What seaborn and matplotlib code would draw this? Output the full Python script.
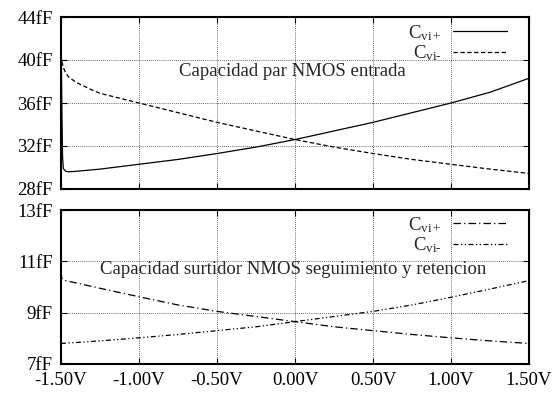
import numpy as np
import pandas as pd
import matplotlib
matplotlib.use("Agg")
import matplotlib.pyplot as plt
import seaborn as sns
from matplotlib.lines import Line2D

sns.set_style("white")
plt.rcParams['font.family'] = ['Liberation Serif', 'DejaVu Serif']
plt.rcParams['mathtext.fontset'] = 'custom'
plt.rcParams['mathtext.rm'] = 'Liberation Serif'
plt.rcParams['mathtext.it'] = 'Liberation Serif:italic'

# ---- data ----
x_top_plus = [-1.5, -1.495, -1.49, -1.485, -1.47, -1.45, -1.4, -1.25, -1.0, -0.75, -0.5, -0.25,
              0.0, 0.25, 0.5, 0.75, 1.0, 1.25, 1.5]
c_top_plus = [44.0, 36.0, 31.0, 29.9, 29.65, 29.6, 29.65, 29.85, 30.3, 30.75, 31.3, 31.9,
              32.6, 33.4, 34.2, 35.1, 36.0, 37.0, 38.3]
x_top_minus = [-1.5, -1.495, -1.485, -1.47, -1.45, -1.4, -1.3, -1.25, -1.0, -0.75, -0.5, -0.25,
               0.0, 0.25, 0.5, 0.75, 1.0, 1.25, 1.5]
c_top_minus = [40.5, 39.9, 39.3, 38.8, 38.4, 37.9, 37.2, 36.9, 36.0, 35.1, 34.2, 33.4,
               32.6, 31.9, 31.3, 30.75, 30.3, 29.85, 29.45]

x_bot_plus = [-1.5, -1.495, -1.47, -1.25, -1.0, -0.75, -0.5, -0.25, 0.0, 0.25, 0.5, 0.75, 1.0, 1.25, 1.5]
c_bot_plus = [10.6, 10.35, 10.25, 9.95, 9.62, 9.3, 9.05, 8.85, 8.65, 8.45, 8.3, 8.15, 8.02, 7.9, 7.8]
x_bot_minus = [-1.5, -1.25, -1.0, -0.75, -0.5, -0.25, 0.0, 0.25, 0.5, 0.75, 1.0, 1.25, 1.5]
c_bot_minus = [7.8, 7.9, 8.02, 8.15, 8.3, 8.45, 8.65, 8.85, 9.05, 9.3, 9.6, 9.92, 10.25]

x_ticks = [-1.5, -1.0, -0.5, 0.0, 0.5, 1.0, 1.5]
x_ticklabels = ["-1.50V", "-1.00V", "-0.50V", "0.00V", "0.50V", "1.00V", "1.50V"]
top_yticks = [28, 32, 36, 40, 44]
top_yticklabels = ["28fF", "32fF", "36fF", "40fF", "44fF"]
bot_yticks = [7, 9, 11, 13]
bot_yticklabels = ["7fF", "9fF", "11fF", "13fF"]
label_plus = r"C$_{\mathrm{vi+}}$"
label_minus = r"C$_{\mathrm{vi}\text{-}}$"
title_top = "Capacidad par NMOS entrada"
title_bot = "Capacidad surtidor NMOS seguimiento y retencion"

W, H = 558, 394
fig = plt.figure(figsize=(W / 100, H / 100), dpi=100)
L, R = 61, 529
ax1 = fig.add_axes([L / W, 1 - 189 / H, (R - L) / W, (189 - 17) / H])
ax2 = fig.add_axes([L / W, 1 - 364 / H, (R - L) / W, (364 - 210) / H])

fs = 13.5
lw = 0.9
styles = {
    "top+": dict(color="black", lw=lw, ls="-"),
    "top-": dict(color="black", lw=lw, ls=(0, (3.5, 2))),
    "bot+": dict(color="black", lw=lw, ls=(0, (6, 2.5, 1, 2.5))),
    "bot-": dict(color="black", lw=lw, ls=(0, (4, 2, 1, 2, 1, 2))),
}

df1p = pd.DataFrame({"x": x_top_plus, "c": c_top_plus})
df1m = pd.DataFrame({"x": x_top_minus, "c": c_top_minus})
df2p = pd.DataFrame({"x": x_bot_plus, "c": c_bot_plus})
df2m = pd.DataFrame({"x": x_bot_minus, "c": c_bot_minus})

sns.lineplot(data=df1p, x="x", y="c", ax=ax1, estimator=None, sort=False, **styles["top+"])
sns.lineplot(data=df1m, x="x", y="c", ax=ax1, estimator=None, sort=False, **styles["top-"])
sns.lineplot(data=df2p, x="x", y="c", ax=ax2, estimator=None, sort=False, **styles["bot+"])
sns.lineplot(data=df2m, x="x", y="c", ax=ax2, estimator=None, sort=False, **styles["bot-"])

for ax, yt, ytl, ylim in [(ax1, top_yticks, top_yticklabels, (28, 44)),
                          (ax2, bot_yticks, bot_yticklabels, (7, 13))]:
    ax.set_xlim(-1.5, 1.5)
    ax.set_ylim(*ylim)
    ax.set_xticks(x_ticks)
    ax.set_yticks(yt)
    ax.set_yticklabels(ytl, fontsize=fs)
    ax.set_xlabel("")
    ax.set_ylabel("")
    ax.grid(True, color="black", lw=0.6, ls=(0, (1, 1.5)), alpha=0.8)
    ax.tick_params(direction="in", length=4, width=0.8, top=True, right=True,
                   left=True, bottom=True, pad=6, colors="black")
    for s in ax.spines.values():
        s.set_color("black")
        s.set_linewidth(1.5)

ax1.set_xticklabels([])
ax2.set_xticklabels(x_ticklabels, fontsize=fs)

h1 = [Line2D([], [], **styles["top+"]), Line2D([], [], **styles["top-"])]
h2 = [Line2D([], [], **styles["bot+"]), Line2D([], [], **styles["bot-"])]
for ax, hs, top_px, ax_top, bottom_px in [(ax1, h1, 23, 17, 189), (ax2, h2, 215, 210, 364)]:
    ax_h = bottom_px - ax_top
    ay = 1 - (top_px - ax_top) / ax_h
    ax_x = (507 - L) / (R - L)
    leg = ax.legend(hs, [label_plus, label_minus], loc="upper right", markerfirst=False,
                    bbox_to_anchor=(ax_x, ay), bbox_transform=ax.transAxes,
                    frameon=False, fontsize=fs, handlelength=2.9, labelspacing=0.05,
                    handletextpad=0.6, borderaxespad=0.0, borderpad=0.0)
    for t in leg.get_texts():
        t.set_ha("right")

ax1.text(-0.744, 38.9, title_top, fontsize=fs, ha="left", va="center")
ax2.text(-1.25, 10.7, title_bot, fontsize=fs, ha="left", va="center")

fig.savefig("out.png", dpi=100)
